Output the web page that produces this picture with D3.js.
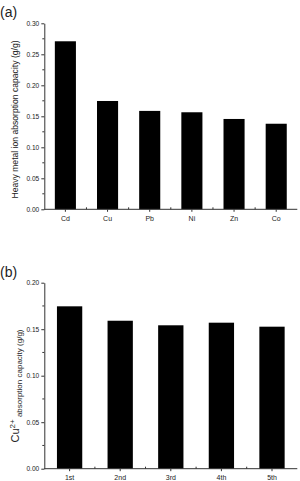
<!DOCTYPE html>
<html lang="en">
<head>
    <meta charset="UTF-8">
    <title>Absorption capacity</title>
    <script src="https://cdn.jsdelivr.net/npm/d3@7/dist/d3.min.js"></script>
    <style>
        body { margin: 0; background: #fff; }
        text { font-family: "Liberation Sans", Arial, sans-serif; fill: #222; }
        .axis path, .axis line { stroke: #333; }
    </style>
</head>
<body>
    <div id="container"></div>
</body>
</html>
<script>
    // (a) metals
    const metals = ['Cd', 'Cu', 'Pb', 'Ni', 'Zn', 'Co']
    const metalCapacity = [0.271, 0.1747, 0.1587, 0.1565, 0.1457, 0.138]
    const ticksA = [0, 0.05, 0.10, 0.15, 0.20, 0.25, 0.30]

    // (b) cycles
    const cycles = ['1st', '2nd', '3rd', '4th', '5th']
    const cuCapacity = [0.1746, 0.1591, 0.1542, 0.157, 0.1527]
    const ticksB = [0, 0.05, 0.10, 0.15, 0.20]

    const width = 300, height = 481
    const svg = d3.select('#container').append('svg').attr('width', width).attr('height', height)

    function drawPanel(opt) {
        const x = d3.scaleBand().domain(opt.cats).range([44.3, 297.3]).paddingInner(0.5).paddingOuter(0.25)
        const y = d3.scaleLinear().domain([0, opt.max]).range([opt.bottom, opt.top])
        const g = svg.append('g')

        // bars
        g.selectAll('rect.bar').data(opt.values).enter().append('rect')
            .attr('class', 'bar')
            .attr('x', (d, i) => x(opt.cats[i]))
            .attr('width', x.bandwidth())
            .attr('y', d => y(d))
            .attr('height', d => opt.bottom - y(d))
            .attr('fill', '#000')

        // minor y ticks
        const minor = d3.range(opt.ticks.length - 1).map(i => (opt.ticks[i] + opt.ticks[i + 1]) / 2)
        g.selectAll('line.minor').data(minor).enter().append('line')
            .attr('x1', 44.3).attr('x2', 42.3)
            .attr('y1', d => y(d)).attr('y2', d => y(d))
            .attr('stroke', '#333')

        const yAxis = g.append('g').attr('class', 'axis').attr('transform', 'translate(44.3,0)')
            .call(d3.axisLeft(y).tickValues(opt.ticks).tickFormat(d3.format('.2f')).tickSize(3).tickSizeOuter(0).tickPadding(2))
        yAxis.selectAll('text').style('font-size', '6.6px')

        // minor x ticks at band edges
        const step = x.step()
        g.selectAll('line.xminor').data(opt.cats.slice(1)).enter().append('line')
            .attr('x1', d => x(d) - (step - x.bandwidth()) / 2).attr('x2', d => x(d) - (step - x.bandwidth()) / 2)
            .attr('y1', opt.bottom).attr('y2', opt.bottom - 2)
            .attr('stroke', '#333')

        const xAxis = g.append('g').attr('class', 'axis').attr('transform', `translate(0,${opt.bottom})`)
            .call(d3.axisBottom(x).tickSize(2.5).tickSizeOuter(0).tickPadding(4))
        xAxis.select('.domain').attr('d', `M44.3,0H297.3`)
        xAxis.selectAll('text').style('font-size', '7px')

        // panel label
        svg.append('text').attr('x', 0).attr('y', opt.top - 6).style('font-size', '14px').text(opt.tag)
        return { x, y }
    }

    drawPanel({ cats: metals, values: metalCapacity, ticks: ticksA, max: 0.30, top: 23.3, bottom: 209.3, tag: '(a)' })
    drawPanel({ cats: cycles, values: cuCapacity, ticks: ticksB, max: 0.20, top: 282.7, bottom: 468.7, tag: '(b)' })

    // y axis titles
    svg.append('text')
        .attr('transform', 'translate(18,119.5) rotate(-90)')
        .attr('text-anchor', 'middle')
        .style('font-size', '8.6px')
        .text('Heavy metal ion absorption capacity (g/g)')

    const tb = svg.append('text')
        .attr('transform', 'translate(21.5,386) rotate(-90)')
        .attr('text-anchor', 'middle')
    tb.append('tspan').attr('dy', -3).style('font-size', '11px').text('Cu')
    tb.append('tspan').attr('dy', -4).style('font-size', '8px').text('2+')
    tb.append('tspan').attr('dy', 7).style('font-size', '8px').text(' absorption capacity (g/g)')
</script>
